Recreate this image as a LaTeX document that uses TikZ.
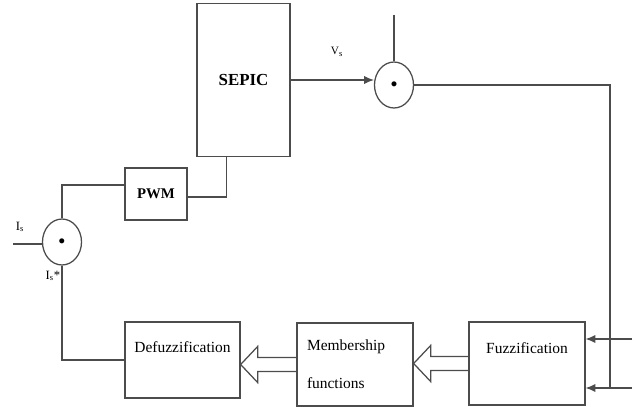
\documentclass[tikz,border=0pt]{standalone}
\usepackage{fontspec}
\setmainfont{Liberation Serif}
\usetikzlibrary{arrows.meta,calc,shapes.geometric}
\tikzset{
  blk/.style={draw=black!70, line width=0.9pt, fill=white, align=center,
    font=\fontsize{11}{27}\selectfont},
  sumj/.style={draw=black!70, line width=0.9pt, ellipse, inner sep=0pt,
    minimum width=39*0.025cm, minimum height=46*0.025cm, font=\small},
  wire/.style={draw=black!70, line width=0.9pt},
  tip/.style={-{Latex[length=7pt,width=6pt]}}
}
% open block arrow from #1 (back) to #2 (tip)
\newcommand{\hollowarr}[2]{%
  \draw[wire] ($(#1)+(0,-7)$) -- ($(#2)+(17,-7)$) -- ($(#2)+(17,-18)$) -- (#2)
    -- ($(#2)+(17,18)$) -- ($(#2)+(17,7)$) -- ($(#1)+(0,7)$);}
\begin{document}
\begin{tikzpicture}[x=0.025cm, y=-0.025cm]
  \useasboundingbox (0,0) rectangle (637,407);
  \node[blk, minimum width=93*0.025cm, minimum height=153*0.025cm,
    font=\fontsize{12}{14}\selectfont\bfseries] (sepic) at (243.5,80) {SEPIC};
  \node[blk, minimum width=62*0.025cm, minimum height=52*0.025cm,
    font=\fontsize{10.5}{12}\selectfont\bfseries] (pwm) at (156,194) {PWM};
  \node[sumj] (sumtop) at (394,85) {$\bullet$};
  \node[sumj] (sumleft) at (62,242) {$\bullet$};
  \node[blk, minimum width=115*0.025cm, minimum height=76*0.025cm] (defz) at (182.5,360)
    {Defuzzification\\[-8pt]\mbox{}};
  \node[blk, minimum width=116*0.025cm, minimum height=83*0.025cm, align=left,
    text width=96*0.025cm] (memb) at (355,364.5) {Membership\\functions};
  \node[blk, minimum width=116*0.025cm, minimum height=83*0.025cm] (fuz) at (527,363.5)
    {Fuzzification\\[-4.5pt]\mbox{}};

  \node[font=\fontsize{8}{9}\selectfont] (vs) at (337,52) {V$_\mathrm{s}$};
  \node[font=\fontsize{9}{10}\selectfont] (iin) at (20,227) {I$_\mathrm{s}$};
  \node[font=\fontsize{9}{10}\selectfont] (iref) at (53,276) {I$_\mathrm{s}$*};

  \coordinate (vtop) at (394,15);
  \coordinate (iinl) at (13,244);
  \coordinate (inA) at (632,339);
  \coordinate (inB) at (632,388);
  \coordinate (tap) at (610,388);
  \coordinate (tipA) at (defz.east |- memb.west);
  \coordinate (tipB) at (memb.east |- fuz.west);

  \draw[wire, tip] (sepic.east) -- (sepic.east -| sumtop.west);
  \draw[wire] (vtop) -- (sumtop.north);
  \draw[wire] (sumtop.east) -| (tap);
  \draw[wire, tip] (inA) -- (inA -| fuz.east);
  \draw[wire, tip] (inB) -- (inB -| fuz.east);
  \hollowarr{fuz.west}{tipB}
  \hollowarr{memb.west}{tipA}
  \draw[wire] (sumleft.south) |- (defz.west);
  \draw[wire] (iinl) -- (iinl -| sumleft.west);
  \draw[wire] ($(pwm.west)+(0,-9)$) -| (sumleft.north);
  \draw[wire] ($(pwm.east)+(0,3)$) -| ($(sepic.south)+(-17,0)$);
\end{tikzpicture}
\end{document}
